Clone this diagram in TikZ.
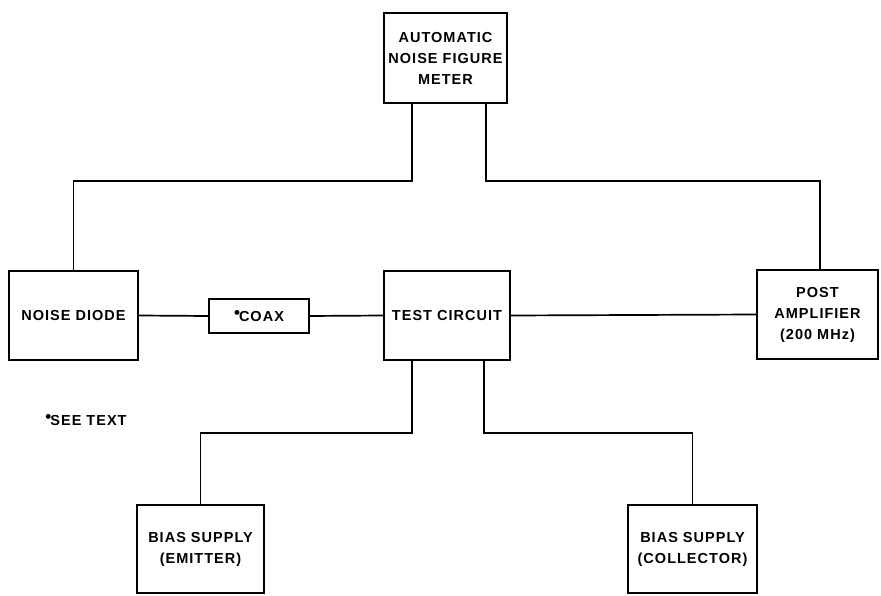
\documentclass[tikz,border=0pt]{standalone}
\usepackage{fontspec}
\setmainfont{Liberation Sans}[LetterSpace=7]
\begin{document}
\begin{tikzpicture}[x=1pt,y=-1pt,
  blk/.style={draw,line width=1.7pt,inner sep=0pt,align=center,
    font=\bfseries\fontsize{14.5}{21}\selectfont},
  wire/.style={line width=1.7pt},
  lbl/.style={font=\bfseries\fontsize{14.5}{21}\selectfont}]
\useasboundingbox (0,0) rectangle (881,596);
\newcommand{\starmark}{\raisebox{0.3ex}{\fontsize{17}{17}\selectfont\char"2022}\kern-1pt}

% blocks
\node[blk,minimum width=123,minimum height=90] (meter) at (445.5,58)
  {AUTOMATIC\\NOISE FIGURE\\METER};
\node[blk,minimum width=129,minimum height=89] (diode) at (73.5,315.5) {NOISE DIODE};
\node[blk,minimum width=100,minimum height=34] (coax) at (259,316) {\starmark COAX};
\node[blk,minimum width=126,minimum height=89] (test) at (447,315.5) {TEST CIRCUIT};
\node[blk,minimum width=121,minimum height=89] (post) at (817.5,314.5)
  {POST\\AMPLIFIER\\(200 MHz)};
\node[blk,minimum width=127,minimum height=88] (emit) at (200.5,549)
  {BIAS SUPPLY\\(EMITTER)};
\node[blk,minimum width=129,minimum height=88] (coll) at (692.5,549)
  {BIAS SUPPLY\\(COLLECTOR)};
\node[lbl] (note) at (86,420) {\starmark SEE TEXT};

% connections
\draw[wire] ([xshift=-33.5pt]meter.south) -- ++(0,77) -| (diode.north);
\draw[wire] ([xshift=40.5pt]meter.south) -- ++(0,77) -| ([xshift=2.5pt]post.north);
\draw[wire] (diode.east) -- (coax.west);
\draw[wire] (coax.east) -- (test.west);
\draw[wire] (test.east) -- (post.west);
\draw[wire] ([xshift=-35pt]test.south) -- ++(0,72) -| (emit.north);
\draw[wire] ([xshift=37pt]test.south) -- ++(0,72) -| (coll.north);
\end{tikzpicture}
\end{document}
